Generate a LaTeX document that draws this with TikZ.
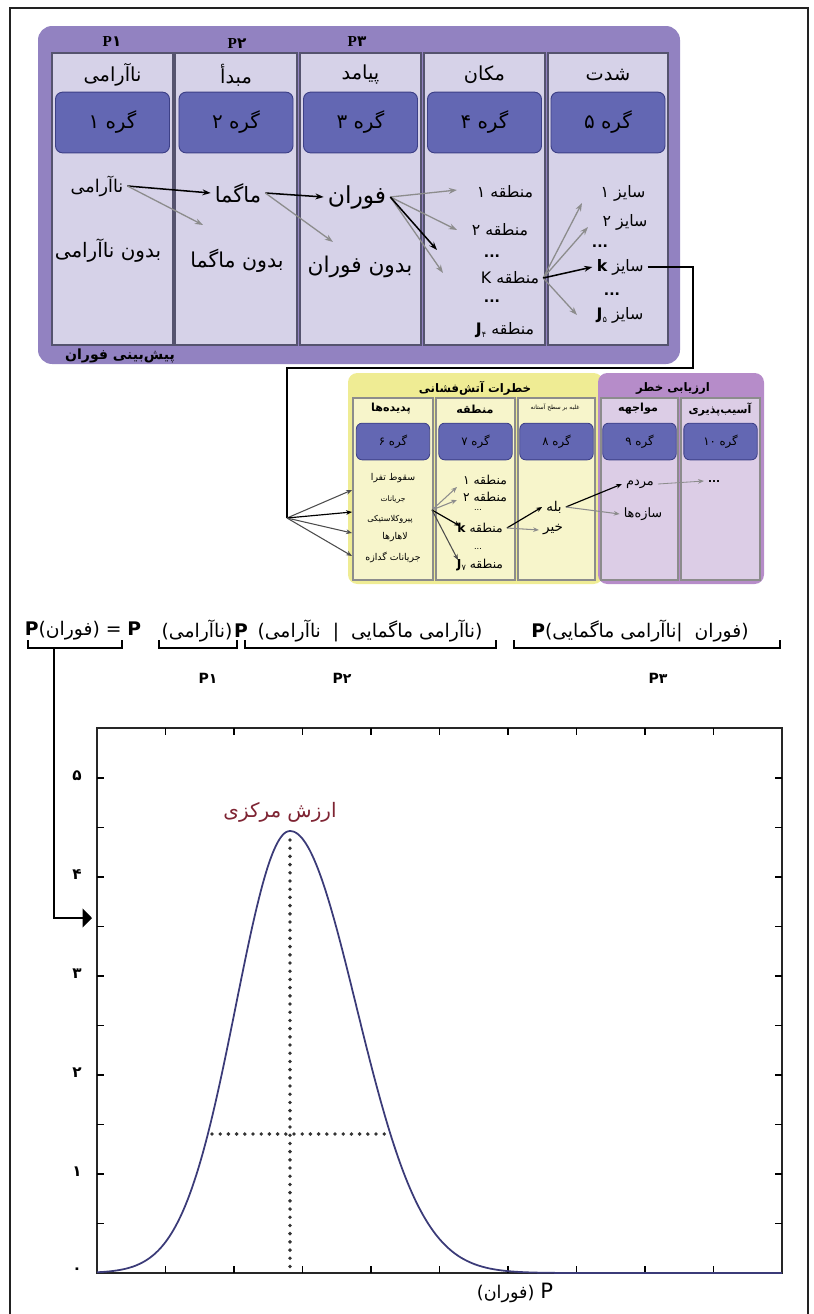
\documentclass[tikz,border=0pt]{standalone}
\usepackage{fontspec}
\setmainfont{Liberation Serif}
\newfontfamily\fafont[Script=Arabic]{DejaVu Sans}
\newfontfamily\latfont{DejaVu Sans}
\TeXXeTstate=1
\usetikzlibrary{arrows.meta}

\definecolor{framegray}{HTML}{222222}
\definecolor{panelpurple}{HTML}{9282C1}
\definecolor{colpurple}{HTML}{D6D2E8}
\definecolor{colborder}{HTML}{55536E}
\definecolor{grefill}{HTML}{6367B3}
\definecolor{greborder}{HTML}{3D4087}
\definecolor{hazyellow}{HTML}{EFEC94}
\definecolor{colyellow}{HTML}{F7F5CB}
\definecolor{riskpurple}{HTML}{B68CC9}
\definecolor{colrisk}{HTML}{DCCDE6}
\definecolor{arrowgray}{HTML}{8C8C8C}
\definecolor{curveblue}{HTML}{3B3B78}
\definecolor{centremaroon}{HTML}{7E2433}

\newcommand{\fa}[1]{{\fafont\beginR #1\endR}}
\newcommand{\lt}[1]{\beginL #1\endL}

\tikzset{
    colbox/.style={fill=colpurple, draw=colborder, line width=1.2pt},
    grebox/.style={fill=grefill, draw=greborder, line width=0.8pt, rounded corners=6pt,
        minimum width=3.42cm, minimum height=1.82cm, inner sep=0pt,
        font=\fafont\fontsize{17}{19}\selectfont},
    colhead/.style={font=\fafont\fontsize{16.5}{19}\selectfont},
    plabel/.style={font=\bfseries\fontsize{13}{15}\selectfont},
    item/.style={font=\fafont\fontsize{15}{17}\selectfont},
    itembig/.style={font=\fafont\fontsize{18}{20}\selectfont},
    itemsmall/.style={font=\fafont\fontsize{13.5}{15}\selectfont},
    dotsnode/.style={font=\latfont\bfseries\fontsize{12}{14}\selectfont, inner sep=0pt},
    blackarrow/.style={-{Stealth[length=7pt,width=5pt]}, line width=1.3pt},
    grayarrow/.style={-{Stealth[length=7pt,width=5pt]}, line width=1.1pt, draw=arrowgray, color=arrowgray},
    colyel/.style={fill=colyellow, draw=black!45, line width=1pt},
    colris/.style={fill=colrisk, draw=black!45, line width=1pt},
    gresmall/.style={fill=grefill, draw=greborder, line width=0.7pt, rounded corners=5pt,
        minimum width=2.2cm, minimum height=1.1cm, inner sep=0pt,
        font=\fafont\fontsize{10}{12}\selectfont},
    lowhead/.style={font=\fafont\bfseries\fontsize{9.5}{11}\selectfont},
    lowitem/.style={font=\fafont\fontsize{8}{9.5}\selectfont},
    smallarrow/.style={-{Stealth[length=5pt,width=4pt]}, line width=1pt},
    smallgray/.style={-{Stealth[length=5pt,width=4pt]}, line width=0.9pt, draw=arrowgray, color=arrowgray},
    eqtext/.style={font=\latfont\fontsize{16}{18}\selectfont, inner sep=0pt},
    ticklabel/.style={font=\fafont\bfseries\fontsize{13}{15}\selectfont},
    dotline/.style={dash pattern=on 0pt off 7pt, line cap=round, line width=3.3pt}
}

\begin{document}
\begin{tikzpicture}[x=0.03cm, y=-0.03cm]
\useasboundingbox (0,0) rectangle (814,1314);

% Rahmen
\draw[framegray, line width=2.5pt] (10,1314) -- (10,8) -- (808,8) -- (808,1314);

% Panel oben
\fill[panelpurple, rounded corners=12pt] (38,26) rectangle (680,364);
\foreach \l/\r/\title/\num [count=\i] in {52/173/{نا‌آرامی}/۱, 175/297/{مبدأ}/۲, 300/421/{پیامد}/۳, 424/545/{مکان}/۴, 548/668/{شدت}/۵}{
  \draw[colbox] (\l,53) rectangle (\r,345);
  \node[colhead] (h\i) at ({(\l+\r)/2},75) {\fa{\title}};
  \node[grebox] (g\i) at ({(\l+\r)/2},122.5) {\fa{گره \num}};
}
\node[plabel] (p1) at (112,42) {P{\fafont\bfseries ۱}};
\node[plabel] (p2) at (237,44) {P{\fafont\bfseries ۲}};
\node[plabel] (p3) at (357,42) {P{\fafont\bfseries ۳}};
\node[font=\fafont\bfseries\fontsize{12}{14}\selectfont] (forecast) at (120,356) {\fa{پیش‌بینی فوران}};

% Zustaende
\node[item] (u1) at (97,186) {\fa{نا‌آرامی}};
\node[font=\fafont\fontsize{17}{19}\selectfont] (u0) at (108,251) {\fa{بدون نا‌آرامی}};
\node[itembig] (m1) at (238,193) {\fa{ماگما}};
\node[font=\fafont\fontsize{17.5}{19}\selectfont] (m0) at (237,261) {\fa{بدون ماگما}};
\node[font=\fafont\fontsize{20}{22}\selectfont] (e1) at (357,197) {\fa{فوران}};
\node[font=\fafont\fontsize{18.5}{20}\selectfont] (e0) at (360,267) {\fa{بدون فوران}};

\node[itemsmall] (z1) at (505,192) {\fa{منطقه ۱}};
\node[itemsmall] (z2) at (500,230) {\fa{منطقه ۲}};
\node[dotsnode] (zd1) at (492,256) {...};
\node[itemsmall] (zk) at (510,278) {\fa{منطقه K}};
\node[dotsnode] (zd2) at (492,301) {...};
\node[itemsmall] (zj) at (505,330) {\fa{منطقه \lt{\textbf{J}\raisebox{-0.2em}{\scriptsize ۴}}}};

\node[itemsmall] (s1) at (623,193) {\fa{سایز ۱}};
\node[itemsmall] (s2) at (625,222) {\fa{سایز ۲}};
\node[dotsnode] (sd1) at (600,246) {...};
\node[itemsmall] (sk) at (620,267) {\fa{سایز \textbf{k}}};
\node[dotsnode] (sd2) at (612,294) {...};
\node[itemsmall] (sj) at (620,315) {\fa{سایز \lt{\textbf{J}\raisebox{-0.2em}{\scriptsize ۵}}}};

% Pfeile oben
\coordinate (um) at (203,225);
\coordinate (me) at (333,242);
\coordinate (ez1) at (457,190);
\coordinate (ez2) at (457,230);
\coordinate (ezk) at (437,250);
\coordinate (ez4) at (443,273);
\coordinate (zs1) at (582,203);
\coordinate (zs2) at (588,227);
\coordinate (zs4) at (577,315);
\draw[blackarrow] (u1.east) -- (m1.west);
\draw[grayarrow] (u1.east) -- (um);
\draw[blackarrow] (m1.east) -- (e1.west);
\draw[grayarrow] (m1.east) -- (me);
\draw[grayarrow] (e1.east) -- (ez1);
\draw[grayarrow] (e1.east) -- (ez2);
\draw[grayarrow] (e1.east) -- (ez4);
\draw[blackarrow] (e1.east) -- (ezk);
\draw[grayarrow] (zk.east) -- (zs1);
\draw[grayarrow] (zk.east) -- (zs2);
\draw[grayarrow] (zk.east) -- (zs4);
\draw[blackarrow] (zk.east) -- (sk.west);

% Verbindung nach unten
\coordinate (turnA) at (693,368);
\coordinate (turnB) at (287,368);
\coordinate (fan) at (287,518);
\draw[line width=1pt] (sk.east) -| (turnA) -- (turnB) -- (fan);

% Panels unten
\fill[hazyellow, rounded corners=8pt] (348,373) rectangle (603,584);
\fill[riskpurple, rounded corners=8pt] (598,373) rectangle (764,584);
\node[font=\fafont\bfseries\fontsize{10}{12}\selectfont] (hazard) at (475,388) {\fa{خطرات آتش‌فشانی}};
\node[font=\fafont\bfseries\fontsize{10}{12}\selectfont] (risk) at (673,388) {\fa{ارزیابی خطر}};
\foreach \l/\r/\num [count=\i from 6] in {353/433/۶, 436/515/۷, 518/595/۸}{
  \draw[colyel] (\l,398) rectangle (\r,580);
  \node[gresmall] (g\i) at ({(\l+\r)/2},441.5) {\fa{گره \num}};
}
\foreach \l/\r/\num [count=\i from 9] in {601/678/۹, 681/760/۱۰}{
  \draw[colris] (\l,398) rectangle (\r,580);
  \node[gresmall] (g\i) at ({(\l+\r)/2},441.5) {\fa{گره \num}};
}
\node[lowhead] (h6) at (391,409) {\fa{پدیده‌ها}};
\node[lowhead] (h7) at (475,409) {\fa{منطقه}};
\node[font=\fafont\fontsize{5}{6}\selectfont] (h8) at (555,407) {\fa{غلبه بر سطح آستانه}};
\node[lowhead] (h9) at (638,409) {\fa{مواجهه}};
\node[lowhead] (h10) at (720,410) {\fa{آسیب‌پذیری}};

% Inhalt unten
\node[lowitem] (ph1) at (393,478) {\fa{سقوط تفرا}};
\node[font=\fafont\fontsize{6.5}{7}\selectfont] (ph2) at (393,500) {\fa{جریانات}};
\node[font=\fafont\fontsize{7}{8}\selectfont] (ph3) at (390,519) {\fa{پیروکلاستیکی}};
\node[lowitem] (ph4) at (395,537) {\fa{لاهارها}};
\node[lowitem] (ph5) at (393,557) {\fa{جریانات گدازه}};

\node[font=\fafont\fontsize{10.5}{12}\selectfont] (r1) at (485,480) {\fa{منطقه ۱}};
\node[font=\fafont\fontsize{10.5}{12}\selectfont] (r2) at (485,497) {\fa{منطقه ۲}};
\node[font=\latfont\fontsize{7}{8}\selectfont, inner sep=0pt] (rd1) at (478,510) {...};
\node[font=\fafont\fontsize{10.5}{12}\selectfont] (rk) at (480,528) {\fa{منطقه \textbf{k}}};
\node[font=\latfont\fontsize{7}{8}\selectfont, inner sep=0pt] (rd2) at (478,549) {...};
\node[font=\fafont\fontsize{10.5}{12}\selectfont] (rj) at (480,565) {\fa{منطقه \lt{\textbf{J}\raisebox{-0.2em}{\scriptsize ۷}}}};

\node[font=\fafont\fontsize{11.5}{13}\selectfont] (yes) at (554,507) {\fa{بله}};
\node[font=\fafont\fontsize{11.5}{13}\selectfont] (no) at (553,530) {\fa{خیر}};
\node[font=\fafont\fontsize{11}{13}\selectfont] (people) at (640,484) {\fa{مردم}};
\node[font=\fafont\fontsize{11}{13}\selectfont] (struct) at (643,514) {\fa{سازه‌ها}};
\node[font=\latfont\bfseries\fontsize{9}{10}\selectfont] (vd) at (714,481) {...};

% Pfeile unten
\coordinate (pd1) at (352,490);
\coordinate (pd2) at (352,512);
\coordinate (pd3) at (352,533);
\coordinate (pd4) at (352,556);
\draw[smallgray, draw=black!70, color=black!70] (fan) -- (pd1);
\draw[smallarrow] (fan) -- (pd2);
\draw[smallgray, draw=black!70, color=black!70] (fan) -- (pd3);
\draw[smallgray, draw=black!70, color=black!70] (fan) -- (pd4);
\coordinate (po) at (432,510);
\coordinate (ro1) at (457,487);
\coordinate (ro2) at (457,500);
\coordinate (rok) at (460,526);
\coordinate (roj) at (458,560);
\draw[smallgray] (po) -- (ro1);
\draw[smallgray] (po) -- (ro2);
\draw[smallarrow] (po) -- (rok);
\draw[smallgray, draw=black!70, color=black!70] (po) -- (roj);
\draw[smallarrow] (rk.east) -- (yes.west);
\draw[smallgray] (rk.east) -- (no.west);
\draw[smallarrow] (yes.east) -- (people.west);
\draw[smallgray] (yes.east) -- (struct.west);
\draw[smallgray, line width=0.7pt] (people.east) -- (vd.west);

% Gleichung
\node[eqtext] (q1) at (83,631) {\textbf{P}(\fa{فوران}) = \textbf{P}};
\node[eqtext] (q2) at (197,631) {(\fa{نا‌آرامی})};
\node[eqtext] (q2p) at (241,631) {\textbf{P}};
\node[eqtext] (q3) at (370,631) {(\fa{نا‌آرامی}\ \ |\ \ \fa{نا‌آرامی ماگمایی})};
\node[eqtext] (q4) at (640,631) {\textbf{P}(\fa{نا‌آرامی ماگمایی}|\ \ \fa{فوران})};
\foreach \a/\b in {28/122, 159/237, 245/496, 514/780}{
  \draw[line width=1.6pt] (\a,640) -- (\a,648) -- (\b,648) -- (\b,640);
}
\node[font=\fafont\bfseries\fontsize{12}{14}\selectfont] (P1) at (208,678) {P۱};
\node[font=\fafont\bfseries\fontsize{12}{14}\selectfont] (P2) at (342,678) {P۲};
\node[font=\fafont\bfseries\fontsize{12}{14}\selectfont] (P3) at (658,678) {P۳};
\coordinate (stem) at (54,648);
\coordinate (stemknee) at (54,918);
\coordinate (target) at (92,918);
\draw[line width=1.4pt, -{Triangle[length=8pt,width=16pt]}] (stem) -- (stemknee) -- (target);

% Diagramm
\draw[line width=1.3pt, black!85] (97,728) rectangle (782,1273);
\foreach \k in {1,...,9}{
  \draw[line width=1.2pt] ({97+\k*68.5},728) -- ++(0,7);
  \draw[line width=1.2pt] ({97+\k*68.5},1273) -- ++(0,-7);
}
\foreach \k in {1,...,10}{
  \draw[line width=1.2pt] (97,{1273-\k*49.5}) -- ++(7,0);
  \draw[line width=1.2pt] (782,{1273-\k*49.5}) -- ++(-7,0);
}
\foreach \v/\lab in {0/۰, 2/۱, 4/۲, 6/۳, 8/۴, 10/۵}{
  \node[ticklabel] (y\v) at (77,{1271-\v*49.5}) {\lab};
}
\draw[curveblue, line width=1.5pt, smooth, domain=97:290, samples=60]
  plot (\x, {1273-442*exp(-0.5*((\x-290)/54)^2)});
\draw[curveblue, line width=1.5pt, smooth, domain=290:600, samples=80]
  plot (\x, {1273-442*exp(-0.5*((\x-290)/66)^2)});
\draw[curveblue, line width=1.5pt] (600,1273) -- (782,1273);
\coordinate (peak) at (290,840);
\coordinate (foot) at (290,1270);
\coordinate (halfL) at (212,1134);
\coordinate (halfR) at (390,1134);
\draw[dotline, black!80] (peak) -- (foot);
\draw[dotline, black!80] (halfL) -- (halfR);
\node[font=\fafont\fontsize{17}{19}\selectfont, text=centremaroon] (centre) at (280,812) {\fa{ارزش مرکزی}};
\node[font=\latfont\fontsize{15}{17}\selectfont] (xlabel) at (515,1293) {(\fa{فوران})\,\,\fontsize{18}{20}\selectfont P};

\end{tikzpicture}
\end{document}
